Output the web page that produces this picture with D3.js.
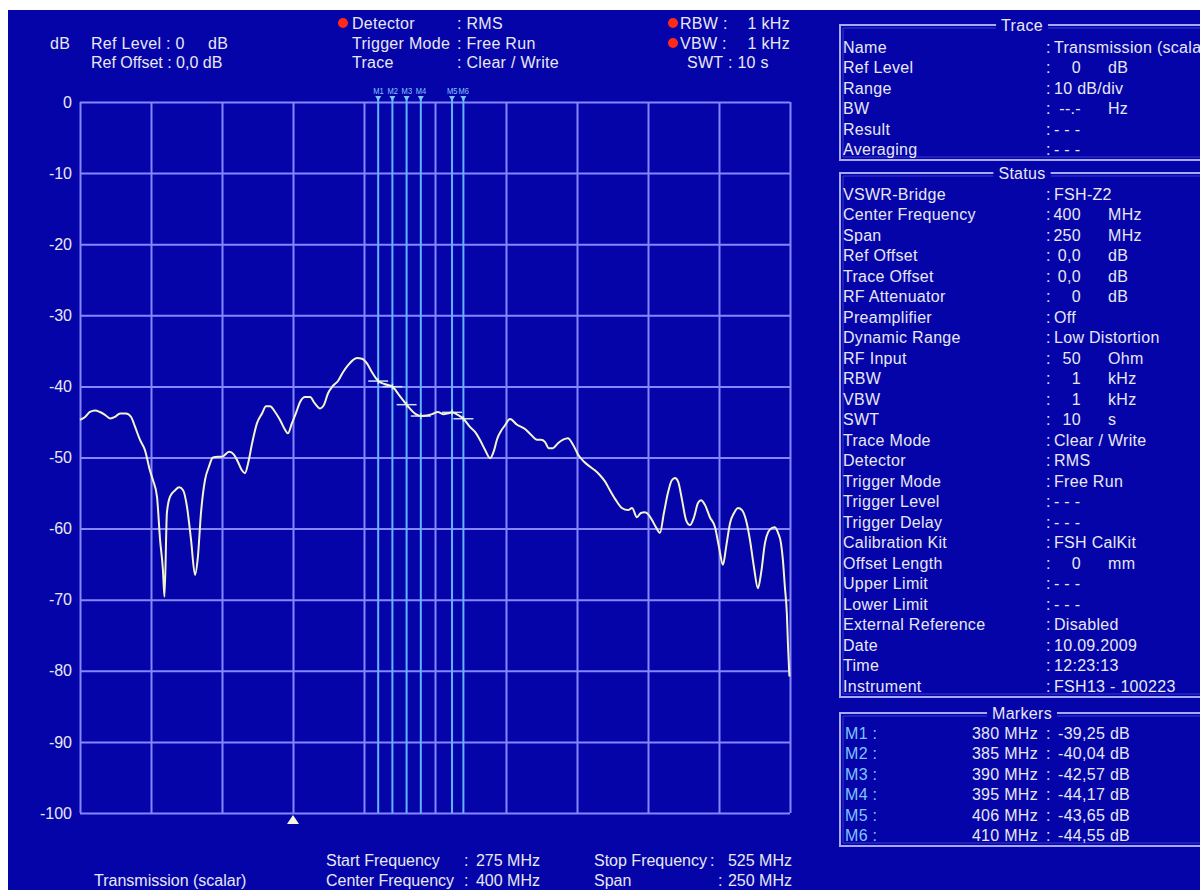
<!DOCTYPE html>
<html><head><meta charset="utf-8">
<script src="https://cdn.jsdelivr.net/npm/d3@7"></script>
<style>
html,body{margin:0;padding:0;background:#fff;}
svg{display:block;}
text{font-family:"Liberation Sans",Arial,sans-serif;}
</style></head><body>
<svg id="chart" width="1200" height="890"></svg>
<script>
// ---- measurement data ----
const traceMHz = [275.0,276.8,278.5,280.3,282.0,283.8,285.6,287.3,289.1,291.2,293.0,294.4,296.1,297.9,299.6,300.7,302.1,303.2,304.2,304.75,305.6,306.7,308.5,309.9,311.3,312.7,314.1,315.5,316.5,317.6,319.0,320.4,321.8,323.6,325.0,327.5,329.2,330.6,332.0,333.1,334.2,335.6,337.3,339.1,340.5,341.9,343.7,345.4,347.2,348.2,349.6,351.0,352.5,354.2,356.0,357.7,359.5,360.9,362.3,364.1,365.9,367.6,369.4,371.1,372.5,374.3,376.1,377.8,380.0,382.4,385.0,387.3,390.0,392.3,395.0,397.0,399.0,401.0,403.0,404.5,406.0,408.0,410.0,412.3,414.1,415.8,417.6,419.4,420.8,421.8,423.2,424.6,426.4,428.9,431.7,433.8,435.9,437.3,438.7,440.1,441.5,443.3,445.1,446.8,448.6,450.4,452.5,454.6,456.3,458.1,459.9,461.6,463.7,465.8,468.0,469.4,471.1,472.5,473.9,475.3,476.4,477.8,479.2,480.6,482.0,483.4,484.5,485.6,487.0,488.4,489.8,491.2,492.6,493.7,495.1,496.8,498.6,500.0,501.4,502.5,503.9,505.3,506.7,508.1,509.5,510.9,512.3,513.7,514.8,516.2,517.3,518.7,519.7,520.8,521.8,522.5,523.2,523.9,524.3,524.8];
const traceDb = [-44.7,-44.3,-43.6,-43.4,-43.6,-44.0,-44.5,-44.3,-43.8,-43.8,-44.3,-45.7,-47.5,-49.0,-51.8,-53.2,-55.5,-61.6,-65.8,-69.6,-57.8,-55.5,-54.6,-54.2,-54.6,-57.0,-61.6,-66.5,-64.0,-57.8,-53.2,-51.3,-50.0,-49.9,-49.9,-49.2,-49.6,-50.6,-51.8,-52.2,-50.8,-48.0,-45.2,-43.8,-42.8,-42.8,-43.6,-44.7,-46.1,-46.6,-45.2,-43.8,-42.2,-41.5,-41.5,-42.4,-43.1,-42.6,-41.0,-39.9,-39.2,-38.0,-37.0,-36.3,-36.0,-36.1,-36.8,-38.0,-39.25,-39.7,-40.04,-41.2,-42.57,-43.6,-44.17,-44.1,-43.9,-43.6,-43.9,-43.8,-43.65,-44.0,-44.55,-45.7,-46.4,-47.5,-48.9,-50.1,-49.0,-47.5,-46.3,-45.5,-44.6,-45.4,-46.0,-46.8,-47.5,-47.5,-47.8,-48.7,-48.7,-48.0,-47.5,-47.3,-48.2,-49.6,-50.6,-51.3,-51.8,-52.5,-53.4,-54.6,-56.0,-57.1,-57.4,-57.1,-58.4,-57.8,-57.7,-58.1,-58.8,-59.8,-60.6,-57.8,-55.0,-53.2,-52.9,-53.4,-56.0,-58.8,-59.5,-58.4,-56.4,-56.0,-56.7,-58.4,-59.8,-62.6,-65.1,-62.6,-59.2,-57.8,-57.1,-57.4,-58.8,-61.6,-65.4,-68.4,-66.3,-62.0,-60.5,-59.9,-59.8,-60.6,-62.0,-64.4,-68.2,-72.0,-76.5,-80.8];

const markerNames = ["M1","M2","M3","M4","M5","M6"];
const markerMHz = [380,385,390,395,406,410];
const markerDb = [-39.25,-40.04,-42.57,-44.17,-43.65,-44.55];

const xTicks = [275,300,325,350,375,400,425,450,475,500,525];
const yTicks = [0,-10,-20,-30,-40,-50,-60,-70,-80,-90,-100];
const freqRange = [275,525];
const levelRange = [0,-100];
const refArrowMHz = 350;

const traceLabels = ["Name","Ref Level","Range","BW","Result","Averaging"];
const traceValues = ["Transmission (scalar)",["0","dB"],"10 dB/div",["--.-","Hz"],"- - -","- - -"];

const statusLabels = ["VSWR-Bridge","Center Frequency","Span","Ref Offset","Trace Offset","RF Attenuator","Preamplifier","Dynamic Range","RF Input","RBW","VBW","SWT","Trace Mode","Detector","Trigger Mode","Trigger Level","Trigger Delay","Calibration Kit","Offset Length","Upper Limit","Lower Limit","External Reference","Date","Time","Instrument"];
const statusValues = ["FSH-Z2",["400","MHz"],["250","MHz"],["0,0","dB"],["0,0","dB"],["0","dB"],"Off","Low Distortion",["50","Ohm"],["1","kHz"],["1","kHz"],["10","s"],"Clear / Write","RMS","Free Run","- - -","- - -","FSH CalKit",["0","mm"],"- - -","- - -","Disabled","10.09.2009","12:23:13","FSH13 - 100223"];

// ---- colours ----
const BG = "#0404a8", GRID = "#8686ff", MLINE = "#62b4ff", TXT = "#e8e8f4",
      TRACE = "#f4f4cc", MTXT = "#80c4ff", BORDER = "#a8a8ff", RED = "#ff2a1a";

const svg = d3.select("#chart");
svg.append("rect").attr("x",8).attr("y",10).attr("width",1192).attr("height",880).attr("fill",BG);

const x = d3.scaleLinear().domain(freqRange).range([80,790]);
const y = d3.scaleLinear().domain(levelRange).range([102,813]);

function txt(g, s, tx, ty, opt = {}) {
  return g.append("text").attr("x",tx).attr("y",ty).attr("dy","0.36em")
    .attr("font-size",opt.size || 16).attr("fill",opt.fill || TXT)
    .attr("letter-spacing",opt.ls == null ? 0.3 : opt.ls)
    .attr("text-anchor",opt.anchor || "start").text(s);
}

// ---- grid ----
const gx = svg.append("g").attr("transform","translate(0,813)")
  .call(d3.axisBottom(x).tickValues(xTicks).tickSize(-711).tickFormat(""));
gx.select(".domain").remove();
gx.selectAll(".tick line").attr("stroke",GRID).attr("stroke-width",2);

const gy = svg.append("g").attr("transform","translate(80,0)")
  .call(d3.axisLeft(y).tickValues(yTicks).tickSize(-710).tickPadding(8).tickFormat(d => String(d)));
gy.select(".domain").remove();
gy.selectAll(".tick line").attr("stroke",GRID).attr("stroke-width",2);
gy.selectAll(".tick text").attr("fill",TXT).attr("font-size",16)
  .attr("font-family","'Liberation Sans',Arial,sans-serif");

// ---- marker lines ----
const mg = svg.append("g");
markerMHz.forEach(f => {
  mg.append("line").attr("x1",x(f)).attr("x2",x(f)).attr("y1",97).attr("y2",813)
    .attr("stroke",MLINE).attr("stroke-width",2);
});
markerMHz.forEach((f,i) => {
  const cx = x(f);
  mg.append("rect").attr("x",cx-5).attr("y",86).attr("width",11).attr("height",10).attr("fill",BG);
  mg.append("text").attr("x",cx-5).attr("y",91).attr("dy","0.36em").attr("font-size",9.5)
    .attr("textLength",10.5).attr("lengthAdjust","spacingAndGlyphs")
    .attr("fill",MTXT).text(markerNames[i]);
  mg.append("path").attr("d",`M${cx-3},96 L${cx+3},96 L${cx},101 Z`).attr("fill",MTXT);
});

// ---- trace ----
const line = d3.line().x(d => x(d[0])).y(d => y(d[1])).curve(d3.curveMonotoneX);
svg.append("path").datum(d3.zip(traceMHz, traceDb)).attr("d",line)
  .attr("fill","none").attr("stroke",TRACE).attr("stroke-width",2).attr("stroke-linejoin","round");

// marker symbols on the trace
markerMHz.forEach((f,i) => {
  const cx = x(f), cy = y(markerDb[i]);
  mg.append("line").attr("x1",cx-10).attr("x2",cx+10).attr("y1",cy).attr("y2",cy)
    .attr("stroke","#c4e2ff").attr("stroke-width",1.5);
  mg.append("line").attr("x1",cx).attr("x2",cx).attr("y1",cy-3).attr("y2",cy+3)
    .attr("stroke","#c4e2ff").attr("stroke-width",1.5);
});

// reference arrow under the grid
const ax = x(refArrowMHz);
svg.append("path").attr("d",`M${ax},815 L${ax+6},824 L${ax-6},824 Z`).attr("fill","#f6f6dc");

// ---- header ----
const hd = svg.append("g");
txt(hd,"dB",50,43);
txt(hd,"Ref Level : 0",91,43);
txt(hd,"dB",208,43);
txt(hd,"Ref Offset : 0,0 dB",91,62,{ls:0});
hd.append("circle").attr("cx",343).attr("cy",23).attr("r",5).attr("fill",RED);
txt(hd,"Detector",352,23); txt(hd,": RMS",457,23);
txt(hd,"Trigger Mode",352,43); txt(hd,": Free Run",457,43);
txt(hd,"Trace",352,62); txt(hd,": Clear / Write",457,62);
hd.append("circle").attr("cx",673).attr("cy",23).attr("r",5).attr("fill",RED);
hd.append("circle").attr("cx",673).attr("cy",43).attr("r",5).attr("fill",RED);
txt(hd,"RBW :",680,23); txt(hd,"1 kHz",790,23,{anchor:"end"});
txt(hd,"VBW :",680,43); txt(hd,"1 kHz",790,43,{anchor:"end"});
txt(hd,"SWT : 10 s",687,62);

// ---- footer ----
const ft = svg.append("g");
const F = {size:16, ls:0};
txt(ft,"Transmission (scalar)",94,880,F);
txt(ft,"Start Frequency",326,860,F); txt(ft,":",464,860,F); txt(ft,"275 MHz",540,860,{...F,anchor:"end"});
txt(ft,"Center Frequency",326,880,F); txt(ft,":",464,880,F); txt(ft,"400 MHz",540,880,{...F,anchor:"end"});
txt(ft,"Stop Frequency",594,860,F); txt(ft,":",710,860,F); txt(ft,"525 MHz",792,860,{...F,anchor:"end"});
txt(ft,"Span",594,880,F); txt(ft,":",718,880,F); txt(ft,"250 MHz",792,880,{...F,anchor:"end"});

// ---- side panel ----
const ROW = 20.5;
const panel = svg.append("g");
function box(title, top, bottom) {
  panel.append("path").attr("d",`M1205,${top} L840,${top} L840,${bottom} L1205,${bottom}`)
    .attr("fill","none").attr("stroke",BORDER).attr("stroke-width",2);
  panel.append("path").attr("d",`M1205,${top+3} L843,${top+3} L843,${bottom-3} L1205,${bottom-3}`)
    .attr("fill","none").attr("stroke","#3a3ad0").attr("stroke-width",1);
  const t = txt(panel,title,1022,top,{anchor:"middle"});
  const bb = t.node().getBBox();
  panel.insert("rect",function(){ return t.node(); })
    .attr("x",bb.x-5).attr("y",top-4).attr("width",bb.width+10).attr("height",8).attr("fill",BG);
}
function rows(labels, values, y0) {
  labels.forEach((l,i) => {
    const ry = y0 + i*ROW;
    txt(panel,l,843,ry);
    txt(panel,":",1046,ry);
    const v = values[i];
    if (Array.isArray(v)) {
      txt(panel,v[0],1081,ry,{anchor:"end"});
      txt(panel,v[1],1108,ry);
    } else {
      txt(panel,v,1054,ry);
    }
  });
}
box("Trace",25,160);
rows(traceLabels, traceValues, 47);
box("Status",173,697);
rows(statusLabels, statusValues, 194);
box("Markers",713,846);
markerNames.forEach((m,i) => {
  const ry = 733 + i*ROW;
  txt(panel,m+" :",845,ry,{fill:MTXT});
  txt(panel,markerMHz[i]+" MHz",1038,ry,{anchor:"end"});
  txt(panel,":",1046,ry);
  txt(panel,markerDb[i].toFixed(2).replace(".",",")+" dB",1058,ry);
});
</script>
</body></html>
